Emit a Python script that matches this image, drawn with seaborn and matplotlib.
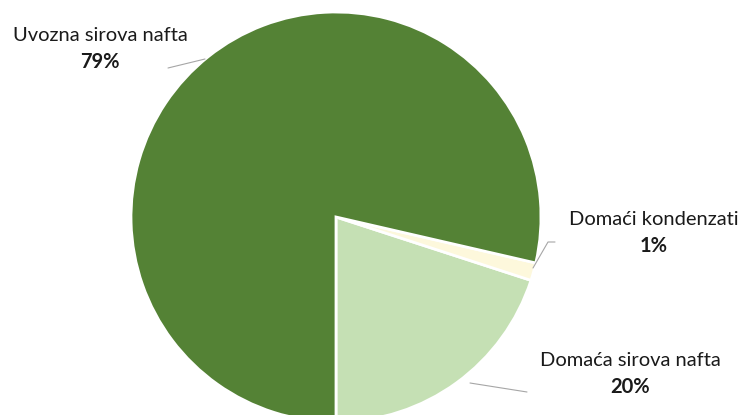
import matplotlib
matplotlib.use('Agg')
import matplotlib.pyplot as plt
import seaborn as sns

# podaci
kategorije = ['Domaća sirova nafta', 'Domaći kondenzati', 'Uvozna sirova nafta']
udjeli = [20.0, 1.4, 78.6]
boje = ['#C5E0B4', '#FDF8DC', '#548235']

sns.set_theme(style='white')
plt.rcParams['font.family'] = ['Lato', 'DejaVu Sans']

# pikselne koordinate -> koordinate podataka (centar 336,217, radijus 205)
cx, cy, r = 336, 217, 205


def px(x, y):
    return (x - cx) / r, (cy - y) / r


fig = plt.figure(figsize=(7.41, 4.15), dpi=100)
ax = fig.add_axes([0, 0, 1, 1])
ax.pie(udjeli, colors=boje, startangle=-90, counterclock=True, radius=1,
       wedgeprops=dict(edgecolor='white', linewidth=2))
ax.set_xlim(-cx / r, (741 - cx) / r)
ax.set_ylim(-(415 - cy) / r, cy / r)
ax.set_aspect('equal')
ax.axis('off')

# oznake: (kategorija, centar teksta, linija)
oznake = {
    'Uvozna sirova nafta': ((100, 35), [(168, 68), (205, 59)]),
    'Domaći kondenzati': ((654, 219), [(533, 268), (548, 242), (555, 242)]),
    'Domaća sirova nafta': ((630, 360), [(470, 383), (527, 392)]),
}
for naziv, udio in zip(kategorije, udjeli):
    (tx, ty), linija = oznake[naziv]
    x0, y0 = px(tx, ty)
    ax.text(x0, y0, naziv, ha='center', va='center', fontsize=14.5, color='#1a1a1a')
    x1, y1 = px(tx, ty + 27)
    ax.text(x1, y1, f'{udio:.0f}%', ha='center', va='center', fontsize=14.5,
            fontweight='bold', color='#1a1a1a')
    xs, ys = zip(*[px(a, b) for a, b in linija])
    ax.plot(xs, ys, color='#a6a6a6', linewidth=0.8)

fig.savefig('out.png', dpi=100)
